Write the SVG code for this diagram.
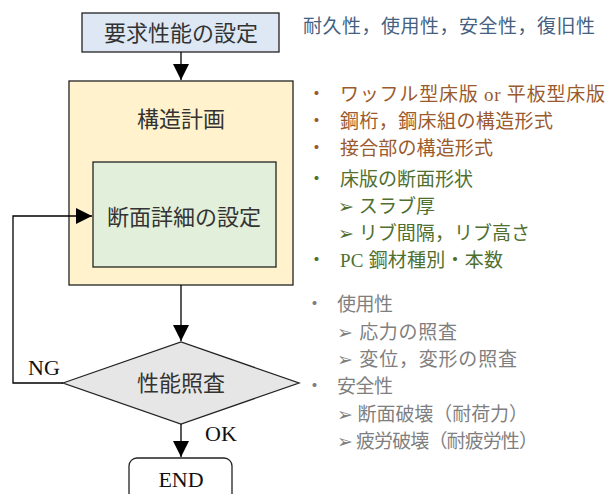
<svg xmlns="http://www.w3.org/2000/svg" width="609" height="494" viewBox="0 0 609 494">
<defs>
<marker id="ah" viewBox="0 0 10 10" refX="10" refY="5" markerWidth="16" markerHeight="16" markerUnits="userSpaceOnUse" orient="auto"><path d="M0,0 L10,5 L0,10 z" fill="#000"/></marker>
<style>
.box{stroke:#222;stroke-width:1.3}
.jp{font-family:"Liberation Serif","Noto Sans CJK JP",serif;font-size:22px;fill:#333}
.en{font-family:"Liberation Serif","Noto Sans CJK JP",serif;font-size:22px;fill:#111}
.conn{fill:none;stroke:#000;stroke-width:1.3}
.r{font-family:"Liberation Serif","Noto Sans CJK JP",serif;font-size:19px}
.blue{fill:#44617f}
.brown{fill:#9a5a2e}
.green{fill:#4f6f2f}
.gray{fill:#7f7f7f}
</style>
</defs>
<g id="req">
<rect class="box" x="82" y="13" width="197" height="39" fill="#dde8f4"/>
<text class="jp" x="181" y="41" text-anchor="middle">要求性能の設定</text>
</g>
<g id="plan">
<rect class="box" x="69" y="81" width="224" height="204" fill="#fff2cc"/>
<text class="jp" x="181" y="127" text-anchor="middle">構造計画</text>
</g>
<g id="detail">
<rect class="box" x="93" y="162" width="183" height="105" fill="#e2efda"/>
<text class="jp" x="184" y="225" text-anchor="middle">断面詳細の設定</text>
</g>
<g id="check">
<polygon class="box" points="63,383 181,342 299,383 181,424" fill="#e6e6e6"/>
<text class="jp" x="181" y="391" text-anchor="middle">性能照査</text>
</g>
<g id="end">
<rect class="box" x="129" y="458" width="103" height="44" rx="8" fill="#fff"/>
<text class="en" x="181" y="487" text-anchor="middle">END</text>
</g>
<g id="connectors">
<line class="conn" x1="181" y1="52" x2="181" y2="80" marker-end="url(#ah)"/>
<line class="conn" x1="181" y1="285" x2="181" y2="341" marker-end="url(#ah)"/>
<polyline class="conn" points="63,383 13,383 13,216 92,216" marker-end="url(#ah)"/>
<line class="conn" x1="181" y1="424" x2="181" y2="457" marker-end="url(#ah)"/>
<text class="en" x="28" y="375">NG</text>
<text class="en" x="205" y="441">OK</text>
</g>
<g id="notes">
<text class="r blue" x="303" y="33" textLength="292" lengthAdjust="spacing">耐久性，使用性，安全性，復旧性</text>
<g class="r brown">
<text x="307" y="101">・</text><text x="340" y="101" textLength="265" lengthAdjust="spacing">ワッフル型床版 or 平板型床版</text>
<text x="307" y="128">・</text><text x="340" y="128" textLength="213" lengthAdjust="spacing">鋼桁，鋼床組の構造形式</text>
<text x="307" y="155">・</text><text x="340" y="155" textLength="153" lengthAdjust="spacing">接合部の構造形式</text>
</g>
<g class="r green">
<text x="307" y="186">・</text><text x="340" y="186" textLength="133" lengthAdjust="spacing">床版の断面形状</text>
<text x="338" y="213" textLength="97" lengthAdjust="spacing">➢ スラブ厚</text>
<text x="338" y="240" textLength="192" lengthAdjust="spacing">➢ リブ間隔，リブ高さ</text>
<text x="307" y="267">・</text><text x="340" y="267" textLength="163" lengthAdjust="spacing">PC 鋼材種別・本数</text>
</g>
<g class="r gray">
<text x="305" y="311">・</text><text x="337" y="311" textLength="56" lengthAdjust="spacing">使用性</text>
<text x="337" y="339" textLength="120" lengthAdjust="spacing">➢ 応力の照査</text>
<text x="337" y="366" textLength="180" lengthAdjust="spacing">➢ 変位，変形の照査</text>
<text x="305" y="393">・</text><text x="337" y="393" textLength="56" lengthAdjust="spacing">安全性</text>
<text x="337" y="421" textLength="191" lengthAdjust="spacing">➢  断面破壊（耐荷力）</text>
<text x="337" y="448" textLength="201" lengthAdjust="spacing">➢  疲労破壊（耐疲労性）</text>
</g>
</g>
</svg>
